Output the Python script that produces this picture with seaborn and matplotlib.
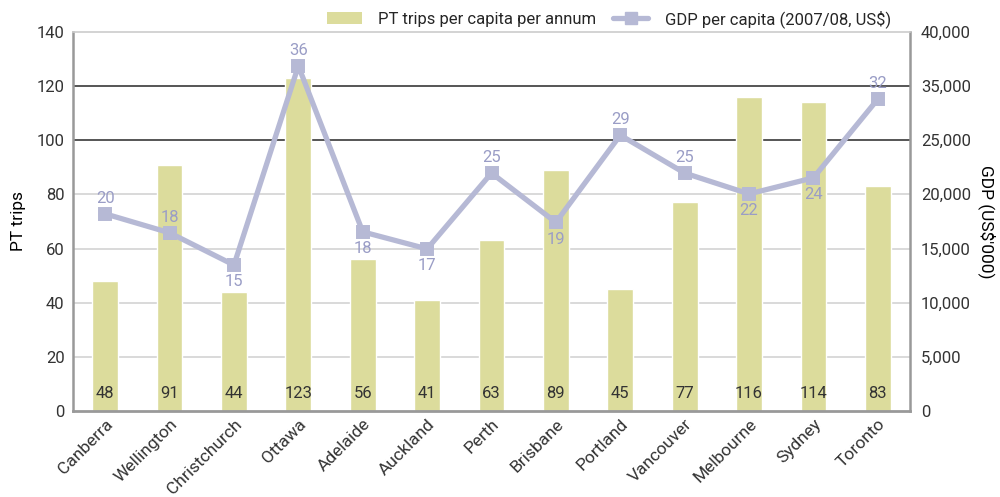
import matplotlib
matplotlib.use('Agg')
from matplotlib import pyplot as plt
from matplotlib.patches import Patch
from matplotlib.lines import Line2D
import numpy as np
import pandas as pd
import seaborn as sns

cities = ['Canberra', 'Wellington', 'Christchurch', 'Ottawa', 'Adelaide', 'Auckland',
          'Perth', 'Brisbane', 'Portland', 'Vancouver', 'Melbourne', 'Sydney', 'Toronto']
pt_trips = [48, 91, 44, 123, 56, 41, 63, 89, 45, 77, 116, 114, 83]
gdp = [20800, 18800, 15400, 36400, 18900, 17100, 25100, 19900, 29100, 25100, 22900, 24600, 32900]
# labels shown under the point instead of above it
label_below = ['Christchurch', 'Adelaide', 'Auckland', 'Brisbane', 'Melbourne', 'Sydney']
left_ticks = [0, 20, 40, 60, 80, 100, 120, 140]
dark_grid = [100, 120]
right_tick_labels = ['0', '5,000', '10,000', '15,000', '20,000', '25,000', '35,000', '40,000']

bar_color = '#dcdc9c'
line_color = '#b6b9d5'
text_color = '#333333'

sns.set_style('white')
plt.rcParams['font.family'] = ['Roboto', 'DejaVu Sans']

df = pd.DataFrame({'city': cities, 'trips': pt_trips, 'gdp': gdp})

fig, ax = plt.subplots(figsize=(10, 4.97), dpi=100)
fig.subplots_adjust(left=0.073, right=0.910, top=0.936, bottom=0.173)

# grid lines (drawn first so bars sit on top)
for t in left_ticks[1:-1]:
    ax.axhline(t, color='#555555' if t in dark_grid else '#d9d9d9', lw=1.4, zorder=0)

sns.barplot(data=df, x='city', y='trips', color=bar_color, width=0.4,
            saturation=1, ax=ax, zorder=2)
ax.set_ylim(0, 140)
ax.set_yticks(left_ticks)
ax.set_xlim(-0.5, len(cities) - 0.5)
ax.set_xlabel('')
ax.set_ylabel('PT trips', fontsize=12.5, color='black', labelpad=8)
ax.tick_params(axis='y', length=0, labelsize=12, labelcolor=text_color, pad=6)
ax.tick_params(axis='x', which='major', length=0, labelsize=12.5, labelcolor=text_color, pad=4)
ax.set_xticks(ax.get_xticks())
ax.set_xticklabels(cities, rotation=45, ha='right', rotation_mode='anchor')
ax.set_xticks(np.arange(len(cities) + 1) - 0.5, minor=True)
ax.tick_params(axis='x', which='minor', length=5, width=1, color='#999999', direction='out')

for i, v in enumerate(pt_trips):
    ax.text(i, 6.5, str(v), ha='center', va='center', fontsize=12, color=text_color, zorder=5)

for side in ['left', 'right', 'bottom']:
    ax.spines[side].set_color('#999999')
ax.spines['bottom'].set_linewidth(2)
ax.spines['left'].set_linewidth(1.8)
ax.spines['right'].set_linewidth(1.8)
ax.spines['top'].set_color('#cccccc')
ax.spines['top'].set_linewidth(1.2)

ax2 = ax.twinx()
sns.pointplot(data=df, x='city', y='gdp', color=line_color, markers='s',
              linewidth=3.8, markersize=7, ax=ax2, zorder=4)
ax2.set_ylim(0, 40000)
ax2.set_xlim(-0.5, len(cities) - 0.5)
ax2.set_yticks(np.linspace(0, 40000, len(right_tick_labels)))
ax2.set_yticklabels(right_tick_labels)
ax2.tick_params(axis='y', length=0, labelsize=12, labelcolor=text_color, pad=8)
ax2.set_ylabel("GDP (US$'000)", rotation=270, fontsize=12.5, color='black', labelpad=18)
for side in ['left', 'right', 'bottom', 'top']:
    ax2.spines[side].set_visible(False)

for i, (c, v) in enumerate(zip(cities, gdp)):
    below = c in label_below
    ax2.annotate(str(v // 1000), (i, v), xytext=(0, -12 if below else 11),
                 textcoords='offset points', ha='center', va='center',
                 fontsize=12, color='#9a9dc6')

handles = [Patch(facecolor=bar_color, edgecolor='none'),
           Line2D([], [], color=line_color, lw=3.8, marker='s', markersize=9,
                  markevery=[1])]
leg = fig.legend(handles, ['PT trips per capita per annum', 'GDP per capita (2007/08, US$)'],
                 loc='upper right', bbox_to_anchor=(0.906, 1.01), ncol=2, frameon=False,
                 fontsize=12, handlelength=2.1, columnspacing=1.0, handletextpad=1.0)

fig.savefig('out.png', dpi=100)
